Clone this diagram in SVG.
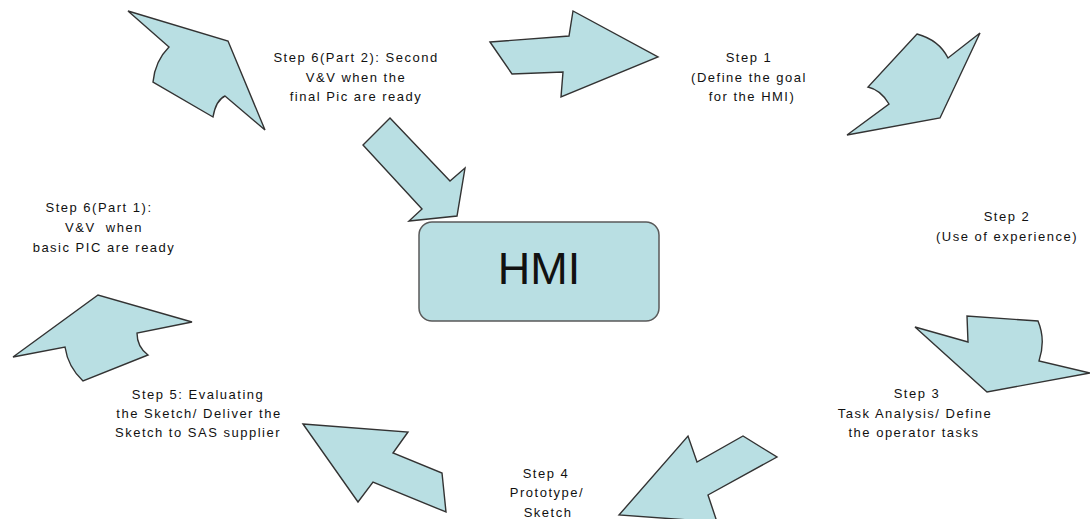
<svg xmlns="http://www.w3.org/2000/svg" width="1090" height="519" viewBox="0 0 1090 519">
  <style>
    .arrow { fill: #b9dfe3; stroke: #333333; stroke-width: 1.4; stroke-linejoin: miter; }
    .box { fill: #b9dfe3; stroke: #5a5a5a; stroke-width: 1.5; }
    .lbl { font-family: "Liberation Sans", Arial, sans-serif; font-size: 13px; letter-spacing: 1.5px; fill: #111111; text-anchor: middle; }
    .big { font-family: "Liberation Sans", Arial, sans-serif; font-size: 45px; fill: #111111; text-anchor: middle; }
  </style>
  <rect width="1090" height="519" fill="#ffffff"/>

  <!-- block arrows running around the cycle -->
  <g id="connectors">
    <path id="arrow-6b-to-1" class="arrow" d="M128,11 L228,41 L265,130 L225,96 Q216,100 213,117 L153,82 Q155,61 169,47 Z"/>
    <path id="arrow-1" class="arrow" d="M490,42 L569,36 L573,11 L658,57 L561,97 L563,72 L512,74 Z"/>
    <path id="arrow-1-to-2" class="arrow" d="M917,34 Q939,40 948,58 L980,33 L940,118 L847,135 L889,104 Q881,90 868,87 Z"/>
    <path id="arrow-2-to-3" class="arrow" d="M915,327 L968,342 L967,316 L1038,321 Q1046,340 1039,361 L1090,373 L987,392 Z"/>
    <path id="arrow-3-to-4" class="arrow" d="M619,515 L688,436 L697,462 L743,436 L777,457 L708,495 L717,522 Z"/>
    <path id="arrow-4-to-5" class="arrow" d="M303,424 L408,432 L393,453 L442,473 L446,512 L373,482 L358,502 Z"/>
    <path id="arrow-5-to-6a" class="arrow" d="M13,357 L98,295 L192,322 L137,333 Q137,347 148,355 L83,381 Q68,367 65,347 Z"/>
    <path id="arrow-6b-to-hmi" class="arrow" d="M390,118 L450,181 L465,168 L457,216 L409,221 L422,209 L363,145 Z"/>
  </g>

  <g id="hmi">
    <rect class="box" x="419" y="222" width="240" height="99" rx="13" ry="13"/>
    <text class="big" x="539" y="284">HMI</text>
  </g>

  <g id="step6-part2">
    <text class="lbl" x="356" y="62">Step 6(Part 2): Second</text>
    <text class="lbl" x="356" y="81.5">V&amp;V when the</text>
    <text class="lbl" x="356" y="101">final Pic are ready</text>
  </g>

  <g id="step1">
    <text class="lbl" x="749" y="62">Step 1</text>
    <text class="lbl" x="749" y="81.5">(Define the goal</text>
    <text class="lbl" x="752" y="101">for the HMI)</text>
  </g>

  <g id="step2">
    <text class="lbl" x="1007" y="221">Step 2</text>
    <text class="lbl" x="1007" y="240.5">(Use of experience)</text>
  </g>

  <g id="step3">
    <text class="lbl" x="917" y="398">Step 3</text>
    <text class="lbl" x="915" y="418">Task Analysis/ Define</text>
    <text class="lbl" x="914" y="437">the operator tasks</text>
  </g>

  <g id="step4">
    <text class="lbl" x="546" y="478">Step 4</text>
    <text class="lbl" x="547" y="497">Prototype/</text>
    <text class="lbl" x="548" y="517">Sketch</text>
  </g>

  <g id="step5">
    <text class="lbl" x="198" y="399">Step 5: Evaluating</text>
    <text class="lbl" x="199" y="418">the Sketch/ Deliver the</text>
    <text class="lbl" x="198" y="437">Sketch to SAS supplier</text>
  </g>

  <g id="step6-part1">
    <text class="lbl" x="99" y="212">Step 6(Part 1):</text>
    <text class="lbl" x="104" y="232" style="white-space:pre">V&amp;V  when</text>
    <text class="lbl" x="104" y="252">basic PIC are ready</text>
  </g>
</svg>
